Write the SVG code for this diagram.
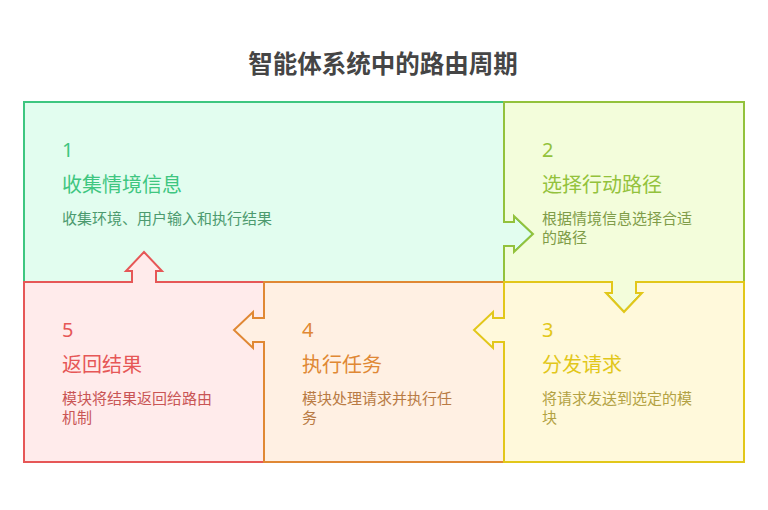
<svg xmlns="http://www.w3.org/2000/svg" width="768" height="510" viewBox="0 0 768 510">
<style>
text{font-family:"Noto Sans","Noto Sans CJK SC",sans-serif}
.box{stroke-width:2;stroke-linejoin:miter}
.num{font-size:20px}
.ttl{font-size:20px}
.dsc{font-size:15px}
</style>
<rect width="768" height="510" fill="#ffffff"/>
<text x="383" y="73" text-anchor="middle" font-size="24.5" font-weight="bold" fill="#454545" style="font-family:'Noto Sans CJK SC','Noto Sans',sans-serif">智能体系统中的路由周期</text>
<g id="node1">
<path class="box" d="M24,102 H504 V222 H514 V216 L533,234 L514,252 V246 H504 V282 H24 Z" fill="#e2fdef" stroke="#3ec680"/>
<text class="num" x="62" y="157" fill="#3ec680">1</text>
<text class="ttl" x="62" y="192" fill="#3ec680">收集情境信息</text>
<text class="dsc" x="62" y="224" fill="#4c9a6e">收集环境、用户输入和执行结果</text>
</g>
<g id="node2">
<path class="box" d="M504,102 H744 V282 H636 V293 H642 L624,312 L606,293 H612 V282 H504 V246 H514 V252 L533,234 L514,216 V222 H504 Z" fill="#f3fddb" stroke="#93c23c"/>
<text class="num" x="542" y="157" fill="#93c23c">2</text>
<text class="ttl" x="542" y="192" fill="#93c23c">选择行动路径</text>
<text class="dsc" x="542" y="224" fill="#7f9c48">根据情境信息选择合适</text>
<text class="dsc" x="542" y="243" fill="#7f9c48">的路径</text>
</g>
<g id="node5">
<path class="box" d="M24,282 H132 V271 H126 L144,252 L162,271 H156 V282 H264 V462 H24 Z" fill="#ffebeb" stroke="#e65757"/>
<text class="num" x="62" y="337" fill="#e65757">5</text>
<text class="ttl" x="62" y="372" fill="#e65757">返回结果</text>
<text class="dsc" x="62" y="404" fill="#c95555">模块将结果返回给路由</text>
<text class="dsc" x="62" y="423" fill="#c95555">机制</text>
</g>
<g id="node4">
<path class="box" d="M264,282 H504 V462 H264 V342 H253 V348 L234,330 L253,312 V318 H264 Z" fill="#fff0e3" stroke="#e08834"/>
<text class="num" x="302" y="337" fill="#e08834">4</text>
<text class="ttl" x="302" y="372" fill="#e08834">执行任务</text>
<text class="dsc" x="302" y="404" fill="#b97b44">模块处理请求并执行任</text>
<text class="dsc" x="302" y="423" fill="#b97b44">务</text>
</g>
<g id="node3">
<path class="box" d="M504,282 H612 V293 H606 L624,312 L642,293 H636 V282 H744 V462 H504 V342 H493 V348 L474,330 L493,312 V318 H504 Z" fill="#fff9db" stroke="#e2c71a"/>
<text class="num" x="542" y="337" fill="#e2c71a">3</text>
<text class="ttl" x="542" y="372" fill="#e2c71a">分发请求</text>
<text class="dsc" x="542" y="404" fill="#b3a243">将请求发送到选定的模</text>
<text class="dsc" x="542" y="423" fill="#b3a243">块</text>
</g>
<g id="connectors"></g>
</svg>
